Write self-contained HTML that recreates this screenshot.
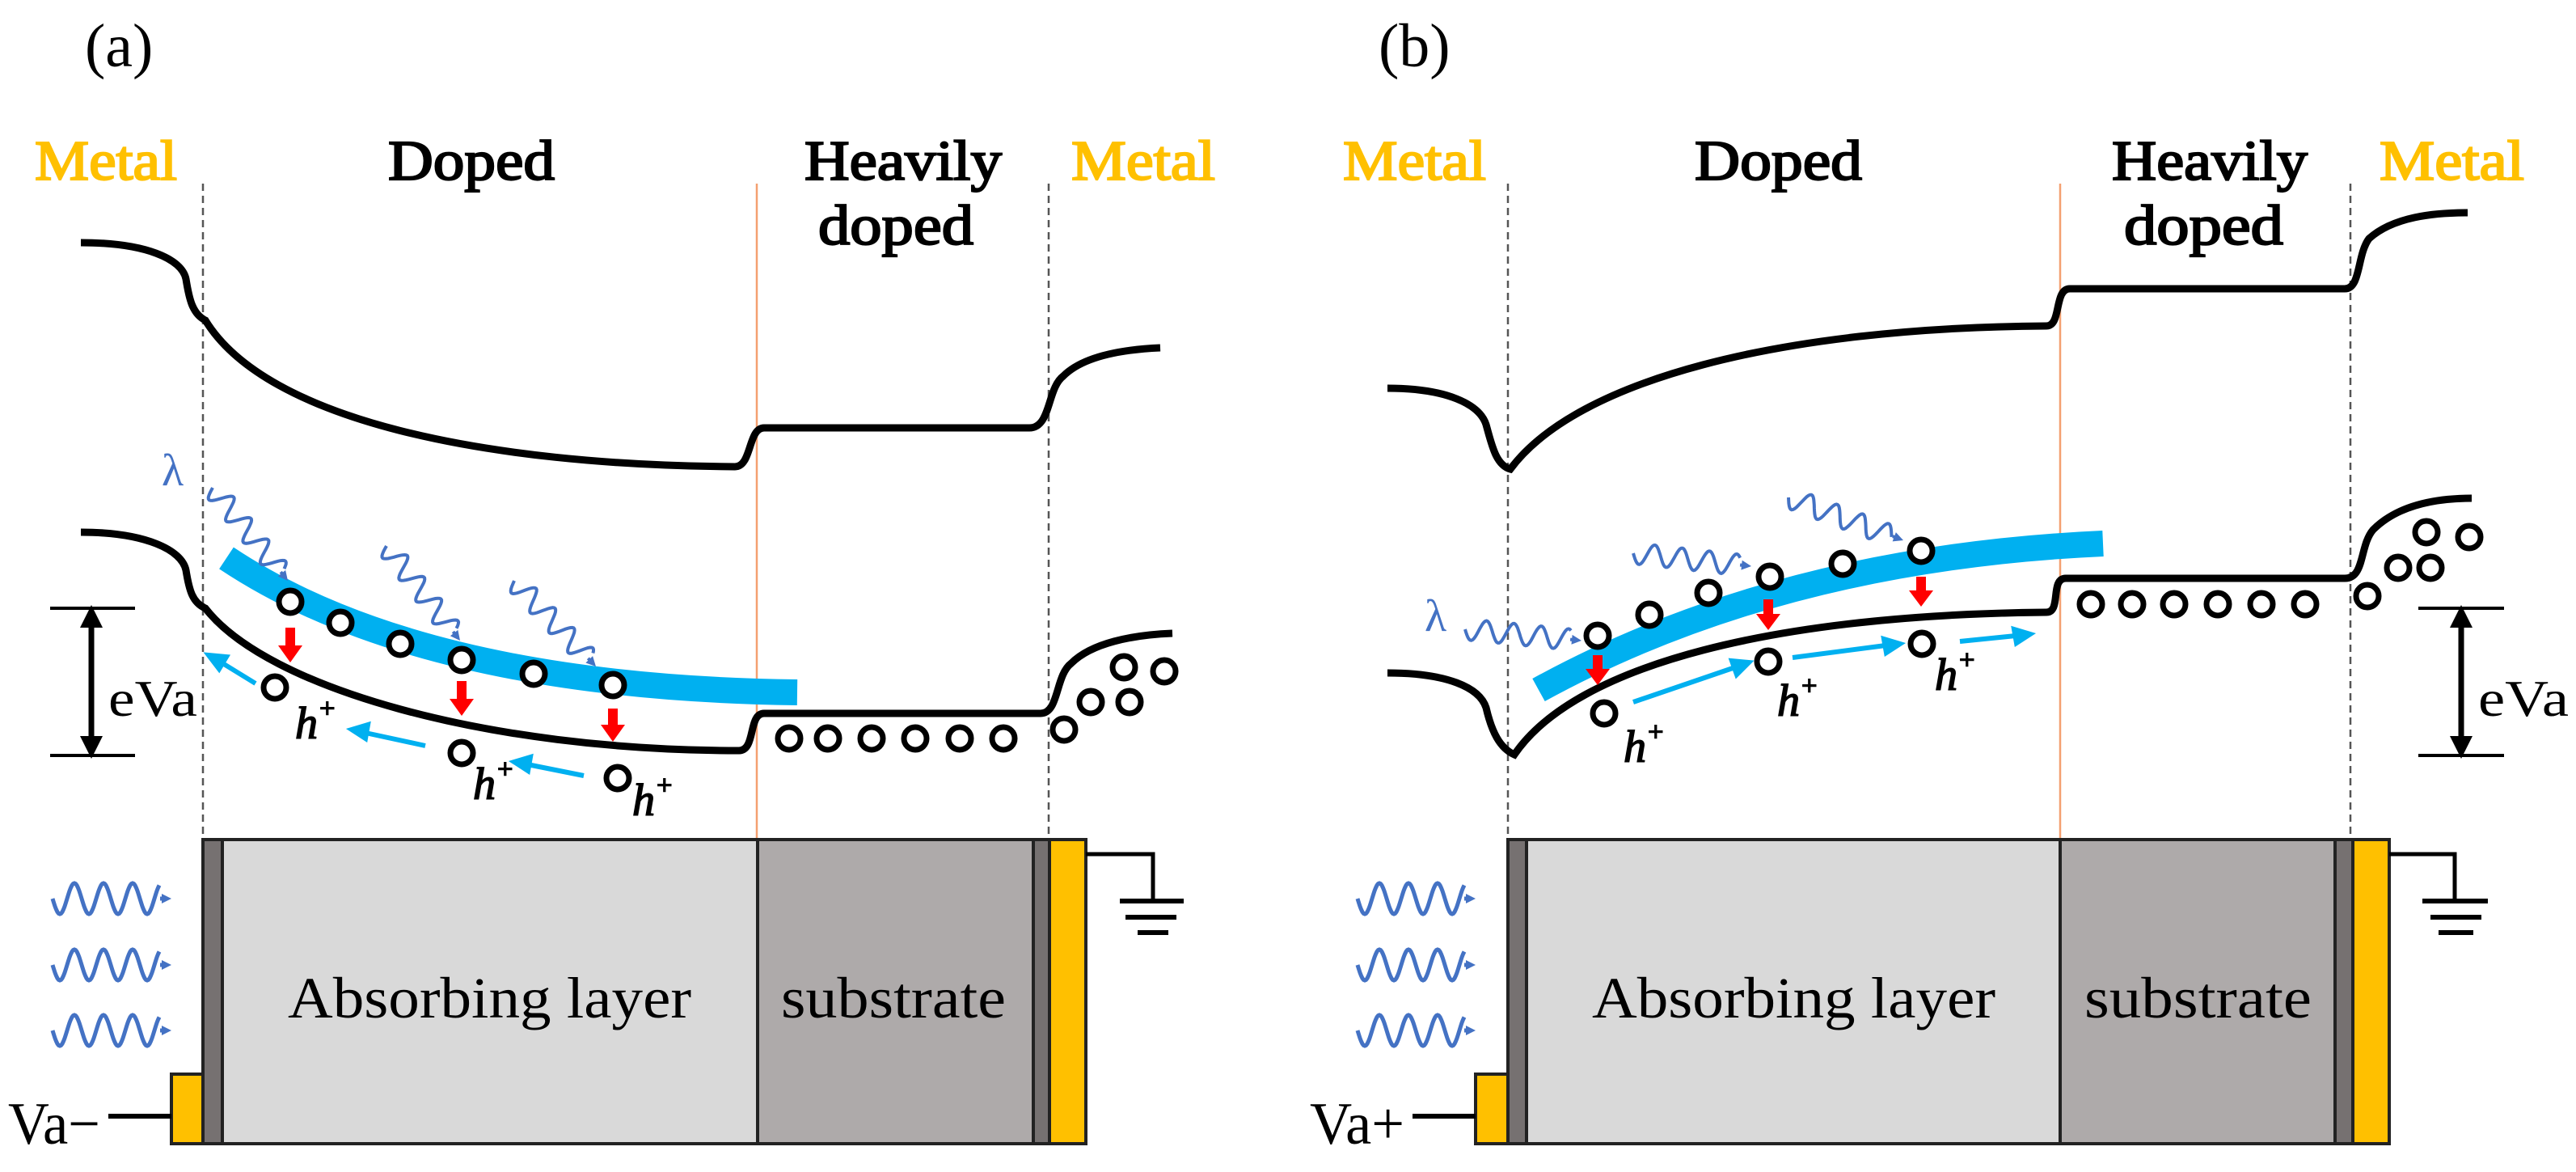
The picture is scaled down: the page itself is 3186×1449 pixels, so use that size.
<!DOCTYPE html>
<html><head><meta charset="utf-8">
<style>
html,body{margin:0;padding:0;background:#fff;}
svg{display:block;}
text{font-family:"Liberation Serif",serif;}
</style></head>
<body>
<svg id="s" width="3186" height="1449" viewBox="0 0 3186 1449" xmlns="http://www.w3.org/2000/svg" font-family="Liberation Serif, serif">
<defs>
<marker id="bt" viewBox="0 0 10 10" refX="5" refY="5" markerWidth="4" markerHeight="4" orient="auto-start-reverse"><path d="M0,0 L10,5 L0,10 z" fill="#000"/></marker>
</defs>
<rect width="3186" height="1449" fill="#fff"/>

<!-- ============ PANEL A ============ -->
<text x="105" y="82" font-size="76">(a)</text>
<text style="font-family:'Liberation Serif',serif;font-weight:normal" fill="#FFC000" stroke="#FFC000" stroke-width="2.2" x="43" y="222" font-size="70" textLength="176" lengthAdjust="spacingAndGlyphs">Metal</text>
<text style="font-family:'Liberation Serif',serif;font-weight:normal" stroke="#000" stroke-width="2.2" x="480" y="222" font-size="70" textLength="206" lengthAdjust="spacingAndGlyphs">Doped</text>
<text style="font-family:'Liberation Serif',serif;font-weight:normal" stroke="#000" stroke-width="2.2" x="995" y="222" font-size="70" textLength="244" lengthAdjust="spacingAndGlyphs">Heavily</text>
<text style="font-family:'Liberation Serif',serif;font-weight:normal" stroke="#000" stroke-width="2.2" x="1012" y="302" font-size="70" textLength="192" lengthAdjust="spacingAndGlyphs">doped</text>
<text style="font-family:'Liberation Serif',serif;font-weight:normal" fill="#FFC000" stroke="#FFC000" stroke-width="2.2" x="1325" y="222" font-size="70" textLength="178" lengthAdjust="spacingAndGlyphs">Metal</text>

<line x1="251" y1="227" x2="251" y2="1038" stroke="#555" stroke-width="2.5" stroke-dasharray="9,6"/>
<line x1="1297" y1="227" x2="1297" y2="1038" stroke="#555" stroke-width="2.5" stroke-dasharray="9,6"/>
<line x1="936" y1="227" x2="936" y2="1038" stroke="#F4A070" stroke-width="2.5"/>

<path d="M100,300 C180,300 225,320 230,345 C234,370 238,388 254,396 C330,520 600,575 909,577 C930,577 925,529 945,529 L1273,529 C1300,529 1295,480 1315,465 C1340,440 1390,432 1435,430" fill="none" stroke="#000" stroke-width="9"/>
<path d="M100,658 C180,658 225,680 230,705 C234,730 238,745 254,752 C330,850 600,928 914,928 C935,928 925,882 945,882 L1287,882 C1310,882 1305,835 1325,820 C1350,795 1400,785 1450,783" fill="none" stroke="#000" stroke-width="9"/>

<path d="M280,690 Q520,850 986,856" fill="none" stroke="#00B0F0" stroke-width="32"/>

<g fill="#fff" stroke="#000" stroke-width="7">
<circle cx="359" cy="744" r="14"/><circle cx="421" cy="770" r="14"/><circle cx="495" cy="796" r="14"/>
<circle cx="571" cy="816" r="14"/><circle cx="660" cy="833" r="14"/><circle cx="758" cy="847" r="14"/>
<circle cx="340" cy="850" r="14"/><circle cx="571" cy="931" r="14"/><circle cx="764" cy="962" r="14"/>
<circle cx="976" cy="913" r="14"/><circle cx="1024" cy="913" r="14"/><circle cx="1078" cy="913" r="14"/>
<circle cx="1132" cy="913" r="14"/><circle cx="1187" cy="913" r="14"/><circle cx="1241" cy="913" r="14"/>
<circle cx="1316" cy="902" r="14"/><circle cx="1349" cy="868" r="14"/><circle cx="1397" cy="868" r="14"/>
<circle cx="1390" cy="825" r="14"/><circle cx="1440" cy="830" r="14"/>
</g>
<g fill="#FF0000">
<path d="M353,776 h12 v22 h9 l-15,21 l-15,-21 h9 z"/>
<path d="M565,842 h12 v22 h9 l-15,21 l-15,-21 h9 z"/>
<path d="M752,876 h12 v20 h9 l-15,21 l-15,-21 h9 z"/>
</g>
<g stroke="#00B0F0" stroke-width="6" fill="#00B0F0">
<line x1="316" y1="845" x2="272" y2="818"/><path d="M258,810 l22,2 l-9,15 z"/>
<line x1="526" y1="922" x2="452" y2="906"/><path d="M435,902 l20,-6 l-3,17 z"/>
<line x1="722" y1="959" x2="652" y2="945"/><path d="M636,942 l20,-6 l-3,17 z"/>
</g>
<g font-size="56" style="font-family:'Liberation Serif',serif;font-style:italic;font-weight:normal" stroke="#000" stroke-width="1.6">
<text x="365" y="913">h<tspan font-size="34" dy="-26">+</tspan></text>
<text x="585" y="988">h<tspan font-size="34" dy="-26">+</tspan></text>
<text x="782" y="1008">h<tspan font-size="34" dy="-26">+</tspan></text>
</g>
<text x="200" y="600" font-size="56" fill="#4472C4">λ</text>

<line x1="62" y1="752" x2="167" y2="752" stroke="#000" stroke-width="4"/>
<line x1="62" y1="934" x2="167" y2="934" stroke="#000" stroke-width="4"/>
<line x1="113" y1="762" x2="113" y2="924" stroke="#000" stroke-width="7" marker-start="url(#bt)" marker-end="url(#bt)"/>
<text x="134" y="885" font-size="64" textLength="110" lengthAdjust="spacingAndGlyphs">eVa</text>

<!-- device A -->
<rect x="251" y="1038" width="24" height="376" fill="#767171" stroke="#222" stroke-width="4"/>
<rect x="275" y="1038" width="662" height="376" fill="#D9D9D9" stroke="#222" stroke-width="4"/>
<rect x="937" y="1038" width="341" height="376" fill="#AEAAAA" stroke="#222" stroke-width="4"/>
<rect x="1278" y="1038" width="20" height="376" fill="#767171" stroke="#222" stroke-width="4"/>
<rect x="1298" y="1038" width="45" height="376" fill="#FFC000" stroke="#222" stroke-width="4"/>
<rect x="212" y="1328" width="39" height="86" fill="#FFC000" stroke="#222" stroke-width="4"/>
<line x1="134" y1="1380" x2="212" y2="1380" stroke="#000" stroke-width="6"/>
<text x="10" y="1414" font-size="74" textLength="114" lengthAdjust="spacingAndGlyphs">Va−</text>
<text x="356" y="1258" font-size="72" textLength="499" lengthAdjust="spacingAndGlyphs">Absorbing layer</text>
<text x="966" y="1258" font-size="72" textLength="278" lengthAdjust="spacingAndGlyphs">substrate</text>
<path d="M1343,1056 H1426 V1113" fill="none" stroke="#000" stroke-width="5"/>
<line x1="1385" y1="1114" x2="1464" y2="1114" stroke="#000" stroke-width="6"/>
<line x1="1392" y1="1134" x2="1455" y2="1134" stroke="#000" stroke-width="6"/>
<line x1="1407" y1="1153" x2="1445" y2="1153" stroke="#000" stroke-width="6"/>

<!-- ============ PANEL B ============ -->
<text x="1705" y="82" font-size="76">(b)</text>
<text style="font-family:'Liberation Serif',serif;font-weight:normal" fill="#FFC000" stroke="#FFC000" stroke-width="2.2" x="1661" y="222" font-size="70" textLength="177" lengthAdjust="spacingAndGlyphs">Metal</text>
<text style="font-family:'Liberation Serif',serif;font-weight:normal" stroke="#000" stroke-width="2.2" x="2096" y="222" font-size="70" textLength="207" lengthAdjust="spacingAndGlyphs">Doped</text>
<text style="font-family:'Liberation Serif',serif;font-weight:normal" stroke="#000" stroke-width="2.2" x="2612" y="222" font-size="70" textLength="242" lengthAdjust="spacingAndGlyphs">Heavily</text>
<text style="font-family:'Liberation Serif',serif;font-weight:normal" stroke="#000" stroke-width="2.2" x="2627" y="302" font-size="70" textLength="197" lengthAdjust="spacingAndGlyphs">doped</text>
<text style="font-family:'Liberation Serif',serif;font-weight:normal" fill="#FFC000" stroke="#FFC000" stroke-width="2.2" x="2943" y="222" font-size="70" textLength="179" lengthAdjust="spacingAndGlyphs">Metal</text>

<line x1="1865" y1="227" x2="1865" y2="1038" stroke="#555" stroke-width="2.5" stroke-dasharray="9,6"/>
<line x1="2907" y1="227" x2="2907" y2="1038" stroke="#555" stroke-width="2.5" stroke-dasharray="9,6"/>
<line x1="2548" y1="227" x2="2548" y2="1038" stroke="#F4A070" stroke-width="2.5"/>

<path d="M1716,480 C1790,480 1830,500 1838,525 C1845,550 1850,575 1868,580 C1950,470 2200,405 2531,403 C2550,403 2540,357 2560,357 L2900,357 C2920,357 2915,315 2930,295 C2960,268 3010,263 3052,263" fill="none" stroke="#000" stroke-width="9"/>
<path d="M1716,832 C1790,832 1830,850 1838,875 C1845,905 1855,925 1873,933 C1950,820 2200,760 2531,757 C2550,757 2535,715 2555,715 L2900,715 C2925,715 2918,675 2935,655 C2965,625 3010,616 3057,616" fill="none" stroke="#000" stroke-width="9"/>

<path d="M1903,853 Q2200,690 2601,672" fill="none" stroke="#00B0F0" stroke-width="32"/>

<g fill="#fff" stroke="#000" stroke-width="7">
<circle cx="1976" cy="786" r="14"/><circle cx="2040" cy="760" r="14"/><circle cx="2113" cy="733" r="14"/>
<circle cx="2189" cy="713" r="14"/><circle cx="2279" cy="697" r="14"/><circle cx="2376" cy="681" r="14"/>
<circle cx="1984" cy="882" r="14"/><circle cx="2187" cy="818" r="14"/><circle cx="2377" cy="796" r="14"/>
<circle cx="2586" cy="747" r="14"/><circle cx="2637" cy="747" r="14"/><circle cx="2689" cy="747" r="14"/>
<circle cx="2743" cy="747" r="14"/><circle cx="2797" cy="747" r="14"/><circle cx="2851" cy="747" r="14"/>
<circle cx="2928" cy="737" r="14"/><circle cx="2966" cy="702" r="14"/><circle cx="3006" cy="702" r="14"/>
<circle cx="3001" cy="658" r="14"/><circle cx="3054" cy="664" r="14"/>
</g>
<g fill="#FF0000">
<path d="M1970,810 h12 v17 h9 l-15,20 l-15,-20 h9 z"/>
<path d="M2181,741 h12 v18 h9 l-15,20 l-15,-20 h9 z"/>
<path d="M2370,713 h12 v17 h9 l-15,20 l-15,-20 h9 z"/>
</g>
<g stroke="#00B0F0" stroke-width="6" fill="#00B0F0">
<line x1="2020" y1="868" x2="2146" y2="825"/><path d="M2163,819 l-15,15 l-6,-17 z"/>
<line x1="2217" y1="813" x2="2332" y2="798"/><path d="M2350,796 l-17,11 l-3,-17 z"/>
<line x1="2424" y1="793" x2="2493" y2="786"/><path d="M2511,784 l-17,11 l-3,-17 z"/>
</g>
<g font-size="56" style="font-family:'Liberation Serif',serif;font-style:italic;font-weight:normal" stroke="#000" stroke-width="1.6">
<text x="2008" y="942">h<tspan font-size="34" dy="-26">+</tspan></text>
<text x="2198" y="885">h<tspan font-size="34" dy="-26">+</tspan></text>
<text x="2393" y="853">h<tspan font-size="34" dy="-26">+</tspan></text>
</g>
<text x="1762" y="780" font-size="56" fill="#4472C4">λ</text>

<line x1="2991" y1="752" x2="3097" y2="752" stroke="#000" stroke-width="4"/>
<line x1="2991" y1="934" x2="3097" y2="934" stroke="#000" stroke-width="4"/>
<line x1="3044" y1="762" x2="3044" y2="924" stroke="#000" stroke-width="7" marker-start="url(#bt)" marker-end="url(#bt)"/>
<text x="3065" y="885" font-size="64" textLength="112" lengthAdjust="spacingAndGlyphs">eVa</text>

<!-- device B -->
<rect x="1865" y="1038" width="23" height="376" fill="#767171" stroke="#222" stroke-width="4"/>
<rect x="1888" y="1038" width="660" height="376" fill="#D9D9D9" stroke="#222" stroke-width="4"/>
<rect x="2548" y="1038" width="340" height="376" fill="#AEAAAA" stroke="#222" stroke-width="4"/>
<rect x="2888" y="1038" width="22" height="376" fill="#767171" stroke="#222" stroke-width="4"/>
<rect x="2910" y="1038" width="45" height="376" fill="#FFC000" stroke="#222" stroke-width="4"/>
<rect x="1825" y="1328" width="40" height="86" fill="#FFC000" stroke="#222" stroke-width="4"/>
<line x1="1747" y1="1380" x2="1825" y2="1380" stroke="#000" stroke-width="6"/>
<text x="1620" y="1414" font-size="74" textLength="117" lengthAdjust="spacingAndGlyphs">Va+</text>
<text x="1969" y="1258" font-size="72" textLength="499" lengthAdjust="spacingAndGlyphs">Absorbing layer</text>
<text x="2578" y="1258" font-size="72" textLength="281" lengthAdjust="spacingAndGlyphs">substrate</text>
<path d="M2955,1056 H3036 V1113" fill="none" stroke="#000" stroke-width="5"/>
<line x1="2996" y1="1114" x2="3077" y2="1114" stroke="#000" stroke-width="6"/>
<line x1="3006" y1="1134" x2="3069" y2="1134" stroke="#000" stroke-width="6"/>
<line x1="3016" y1="1153" x2="3059" y2="1153" stroke="#000" stroke-width="6"/>

<g id="waves"></g>
</svg>
<script>
(function(){
var g=document.getElementById('waves'),ns='http://www.w3.org/2000/svg';
function wave(x1,y1,x2,y2,amp,per,sw){
  var dx=x2-x1,dy=y2-y1,L=Math.sqrt(dx*dx+dy*dy),ux=dx/L,uy=dy/L,px=-uy,py=ux;
  var head=14,Lw=L-head,d='';
  for(var t=0;t<=Lw;t+=1.5){
    var o=amp*Math.sin(2*Math.PI*t/per);
    var x=x1+ux*t+px*o,y=y1+uy*t+py*o;
    d+=(t==0?'M':'L')+x.toFixed(1)+','+y.toFixed(1);
  }
  var p=document.createElementNS(ns,'path');
  p.setAttribute('d',d);p.setAttribute('fill','none');p.setAttribute('stroke','#4472C4');p.setAttribute('stroke-width',sw);
  g.appendChild(p);
  var ex=x1+ux*Lw,ey=y1+uy*Lw;
  var l=document.createElementNS(ns,'line');
  l.setAttribute('x1',ex);l.setAttribute('y1',ey);l.setAttribute('x2',x2-ux*6);l.setAttribute('y2',y2-uy*6);
  l.setAttribute('stroke','#4472C4');l.setAttribute('stroke-width',sw);g.appendChild(l);
  var h=document.createElementNS(ns,'path');
  var bx=x2-ux*12,by=y2-uy*12;
  h.setAttribute('d','M'+x2+','+y2+'L'+(bx+px*6)+','+(by+py*6)+'L'+(bx-px*6)+','+(by-py*6)+'z');
  h.setAttribute('fill','#4472C4');g.appendChild(h);
}
wave(263,603,356,718,13,34,4);
wave(478,675,569,792,13,34,4);
wave(636,718,737,824,13,34,4);
wave(1812,778,1956,792,13,34,4);
wave(2020,684,2166,700,13,34,4);
wave(2212,615,2354,668,13,34,4);
[1111,1193,1274].forEach(function(y){wave(65,y,212,y,19,36,5);wave(1679,y,1825,y,19,36,5);});
})();
</script>
</body></html>
